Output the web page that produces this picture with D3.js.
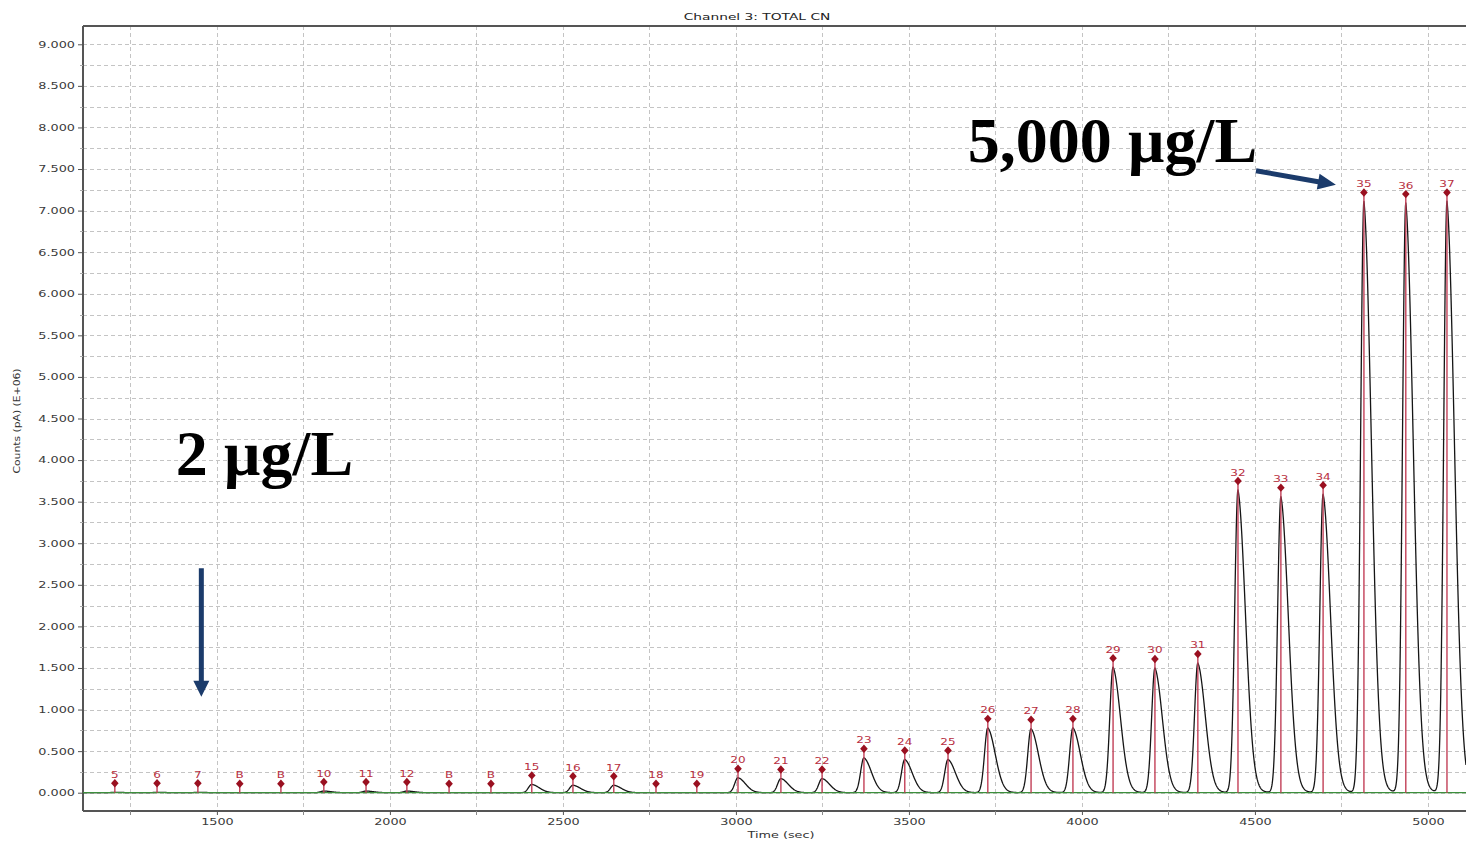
<!DOCTYPE html>
<html>
<head>
<meta charset="utf-8">
<script src="https://cdn.jsdelivr.net/npm/d3@7/dist/d3.min.js"></script>
<style>
  html, body { margin: 0; padding: 0; background: #ffffff; }
  svg { display: block; }
</style>
</head>
<body>
<svg id="chart" width="1466" height="841"></svg>
<script>
// Peak table of the run (time of apex in s, apex height in counts E+06)
const peakLabels = ["5", "6", "7", "B", "B", "10", "11", "12", "B", "B", "15", "16", "17",
  "18", "19", "20", "21", "22", "23", "24", "25", "26", "27", "28", "29", "30", "31",
  "32", "33", "34", "35", "36", "37"];
const peakTimes = [1205, 1327, 1445, 1566, 1685, 1809, 1931, 2049, 2171, 2292, 2410, 2529, 2647,
  2769, 2887, 3006, 3130, 3249, 3370, 3488, 3613, 3728, 3853, 3974, 4090, 4211, 4335,
  4451, 4575, 4697, 4815, 4936, 5055];
const peakHeights = [0.005, 0.005, 0.005, 0, 0, 0.02, 0.02, 0.02, 0, 0, 0.10, 0.09, 0.09,
  0, 0, 0.18, 0.17, 0.17, 0.42, 0.40, 0.40, 0.78, 0.77, 0.78, 1.51, 1.50, 1.56,
  3.64, 3.56, 3.59, 7.11, 7.09, 7.11];

// Axes
const timeDomain = [1113, 5110];
const countDomain = [-0.22, 9.22];
const xTickValues = [1500, 2000, 2500, 3000, 3500, 4000, 4500, 5000];
const xMinorValues = [1250, 1750, 2250, 2750, 3250, 3750, 4250, 4750];
const yTickValues = [0, 0.5, 1, 1.5, 2, 2.5, 3, 3.5, 4, 4.5, 5, 5.5, 6, 6.5, 7, 7.5, 8, 8.5, 9];
const yMinorValues = [0.25, 0.75, 1.25, 1.75, 2.25, 2.75, 3.25, 3.75, 4.25, 4.75, 5.25, 5.75,
  6.25, 6.75, 7.25, 7.75, 8.25, 8.75];

const chartTitle = "Channel 3: TOTAL CN";
const xTitle = "Time (sec)";
const yTitle = "Counts (pA) (E+06)";
const lowLabel = "2 µg/L";
const highLabel = "5,000 µg/L";

// ---------------------------------------------------------------
const plot = { left: 83, top: 26, right: 1466, bottom: 811 };
const svg = d3.select("#chart");

const x = d3.scaleLinear().domain(timeDomain).range([plot.left, plot.right]);
const y = d3.scaleLinear().domain(countDomain).range([plot.bottom, plot.top]);

const uiFont = "'DejaVu Sans', Verdana, sans-serif";
const gridColor = "#c4c4c4";
const axisColor = "#555555";

// widen the small UI text the way the instrument software renders it
function stretch(sel, k) {
  sel.each(function () {
    const n = this.getComputedTextLength();
    this.setAttribute("textLength", (n * k).toFixed(2));
    this.setAttribute("lengthAdjust", "spacingAndGlyphs");
  });
}

svg.append("defs").append("clipPath").attr("id", "plotClip")
  .append("rect")
  .attr("x", plot.left).attr("y", plot.top)
  .attr("width", plot.right - plot.left).attr("height", plot.bottom - plot.top);

// dashed grid
const grid = svg.append("g").attr("stroke", gridColor).attr("stroke-width", 1)
  .attr("stroke-dasharray", "4,3").attr("shape-rendering", "crispEdges");
grid.selectAll("line.gy").data(yTickValues.concat(yMinorValues)).join("line")
  .attr("class", "gy")
  .attr("x1", plot.left).attr("x2", plot.right)
  .attr("y1", d => Math.round(y(d)) + 0.5).attr("y2", d => Math.round(y(d)) + 0.5);
grid.selectAll("line.gx").data(xTickValues.concat(xMinorValues)).join("line")
  .attr("class", "gx")
  .attr("y1", plot.top).attr("y2", plot.bottom)
  .attr("x1", d => Math.round(x(d)) + 0.5).attr("x2", d => Math.round(x(d)) + 0.5);

// frame: left, top, bottom
const frame = svg.append("g").attr("stroke", axisColor).attr("stroke-width", 1.2)
  .attr("shape-rendering", "crispEdges");
frame.append("line").attr("x1", plot.left).attr("x2", plot.left).attr("y1", plot.top).attr("y2", plot.bottom);
frame.append("line").attr("x1", plot.left).attr("x2", plot.right).attr("y1", plot.top).attr("y2", plot.top);
frame.append("line").attr("x1", plot.left).attr("x2", plot.right).attr("y1", plot.bottom).attr("y2", plot.bottom);

// y axis
const yAxis = d3.axisLeft(y).tickValues(yTickValues).tickFormat(d3.format(".3f"))
  .tickSize(5).tickPadding(3);
const gY = svg.append("g").attr("transform", `translate(${plot.left},0)`).call(yAxis);
gY.select(".domain").remove();
gY.selectAll(".tick line").attr("stroke", axisColor);
gY.selectAll(".tick text").attr("font-family", uiFont).attr("font-size", 8)
  .attr("fill", "#3a3a3a").attr("dy", "0.36em");
svg.append("g").attr("stroke", "#aaa").selectAll("line").data(yMinorValues).join("line")
  .attr("x1", plot.left - 3).attr("x2", plot.left)
  .attr("y1", d => Math.round(y(d)) + 0.5).attr("y2", d => Math.round(y(d)) + 0.5);

// x axis
const xAxis = d3.axisBottom(x).tickValues(xTickValues).tickFormat(d3.format("d"))
  .tickSize(4).tickPadding(4);
const gX = svg.append("g").attr("transform", `translate(0,${plot.bottom})`).call(xAxis);
gX.select(".domain").remove();
gX.selectAll(".tick line").attr("stroke", axisColor);
gX.selectAll(".tick text").attr("font-family", uiFont).attr("font-size", 8).attr("fill", "#3a3a3a");
svg.append("g").attr("stroke", "#888").selectAll("line").data(xMinorValues).join("line")
  .attr("y1", plot.bottom).attr("y2", plot.bottom + 4)
  .attr("x1", d => Math.round(x(d)) + 0.5).attr("x2", d => Math.round(x(d)) + 0.5);

// titles
const titleText = svg.append("text").attr("x", 757).attr("y", 20).attr("text-anchor", "middle")
  .attr("font-family", uiFont).attr("font-size", 8.3).attr("fill", "#222").text(chartTitle);
const xTitleText = svg.append("text").attr("x", 781).attr("y", 838).attr("text-anchor", "middle")
  .attr("font-family", uiFont).attr("font-size", 8).attr("fill", "#333").text(xTitle);
const yTitleText = svg.append("text").attr("transform", "translate(20,421) rotate(-90)")
  .attr("text-anchor", "middle")
  .attr("font-family", uiFont).attr("font-size", 8.3).attr("fill", "#333").text(yTitle);

// chromatogram trace built from the peak table: gaussian front, tailing back
function peakShape(dt) {
  if (dt <= 0) return Math.exp(-(dt * dt) / (2 * 9.5 * 9.5));
  return 0.9 * Math.exp(-(dt * dt) / (2 * 22 * 22)) + 0.1 * Math.exp(-dt / 21);
}
const trace = [];
for (let t = timeDomain[0]; t <= timeDomain[1]; t += 1) {
  let v = 0;
  for (let i = 0; i < peakTimes.length; i++) {
    const dt = t - peakTimes[i];
    if (dt > -60 && dt < 200) v += peakHeights[i] * peakShape(dt);
  }
  trace.push([t, v]);
}

const plotLayer = svg.append("g").attr("clip-path", "url(#plotClip)");

plotLayer.append("path").datum(trace)
  .attr("fill", "none").attr("stroke", "#151515").attr("stroke-width", 1.3)
  .attr("stroke-linejoin", "round")
  .attr("d", d3.line().x(d => x(d[0])).y(d => y(d[1])));

// baseline
plotLayer.append("line")
  .attr("x1", plot.left).attr("x2", plot.right)
  .attr("y1", y(0)).attr("y2", y(0))
  .attr("stroke", "#3d8f3d").attr("stroke-width", 1.2);

// peak apex markers: stem, diamond and peak number
const markerLift = 9;
const peaks = peakTimes.map((t, i) => ({ t, h: peakHeights[i], label: peakLabels[i] }));

plotLayer.selectAll("line.stem").data(peaks).join("line").attr("class", "stem")
  .attr("x1", d => x(d.t)).attr("x2", d => x(d.t))
  .attr("y1", y(0)).attr("y2", d => y(d.h) - markerLift)
  .attr("stroke", "#c23f57").attr("stroke-width", 1.4);

plotLayer.selectAll("path.mark").data(peaks).join("path").attr("class", "mark")
  .attr("transform", d => `translate(${x(d.t)},${y(d.h) - markerLift})`)
  .attr("d", "M0,-4.2L3.8,0L0,4.2L-3.8,0Z")
  .attr("fill", "#9a1020");

const peakText = plotLayer.selectAll("text.pk").data(peaks).join("text").attr("class", "pk")
  .attr("x", d => x(d.t)).attr("y", d => y(d.h) - markerLift - 5.5)
  .attr("text-anchor", "middle")
  .attr("font-family", uiFont).attr("font-size", 8).attr("fill", "#b8303f")
  .text(d => d.label);

stretch(gY.selectAll(".tick text"), 1.6);
stretch(gX.selectAll(".tick text"), 1.6);
stretch(titleText, 1.66);
stretch(xTitleText, 1.6);
stretch(yTitleText, 1.3);
stretch(peakText, 1.5);

// concentration call-outs
const navy = "#1b3b6b";
const serif = "'Liberation Serif', 'Times New Roman', serif";

svg.append("text").attr("x", x(1381)).attr("y", y(3.82))
  .attr("font-family", serif).attr("font-weight", "bold").attr("font-size", 64)
  .attr("fill", "#000").text(lowLabel);
svg.append("text").attr("x", x(3670)).attr("y", y(7.58))
  .attr("font-family", serif).attr("font-weight", "bold").attr("font-size", 64)
  .attr("fill", "#000").text(highLabel);

function arrow(x0, y0, x1, y1, shaft, headW, headL) {
  const dx = x1 - x0, dy = y1 - y0, len = Math.hypot(dx, dy);
  const ux = dx / len, uy = dy / len, nx = -uy, ny = ux;
  const bx = x1 - ux * headL, by = y1 - uy * headL;
  const p = [
    [x0 + nx * shaft / 2, y0 + ny * shaft / 2],
    [bx + nx * shaft / 2, by + ny * shaft / 2],
    [bx + nx * headW / 2, by + ny * headW / 2],
    [x1, y1],
    [bx - nx * headW / 2, by - ny * headW / 2],
    [bx - nx * shaft / 2, by - ny * shaft / 2],
    [x0 - nx * shaft / 2, y0 - ny * shaft / 2]
  ];
  svg.append("path").attr("d", "M" + p.map(q => q.join(",")).join("L") + "Z").attr("fill", navy);
}
arrow(x(1455), y(2.7), x(1455), y(1.155), 5, 16, 16);
arrow(x(4503), y(7.48), x(4734), y(7.31), 5, 16, 18);
</script>
</body>
</html>
